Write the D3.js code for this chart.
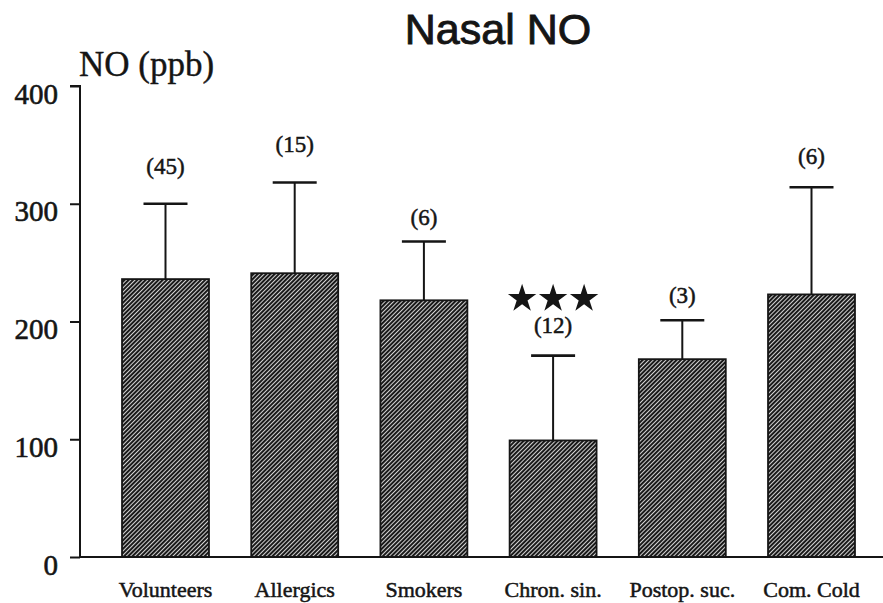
<!DOCTYPE html>
<html>
<head>
<meta charset="utf-8">
<script src="https://cdn.jsdelivr.net/npm/d3@7"></script>
<style>
  html, body { margin: 0; padding: 0; background: #ffffff; }
  svg { display: block; }
</style>
</head>
<body>
<script>
// Nasal NO by subject group: mean with upward SD bar, group size in brackets
const categories = ["Volunteers", "Allergics", "Smokers", "Chron. sin.", "Postop. suc.", "Com. Cold"];
const meanNO = [236, 241, 218, 99, 168, 223];
const sdNO = [64, 77, 50, 72, 33, 91];
const nSubjects = [45, 15, 6, 12, 3, 6];
const starCount = [0, 0, 0, 3, 0, 0];
const yTicks = [0, 100, 200, 300, 400];

const W = 883, H = 603;
const ink = "#151515";
const serif = "Liberation Serif, Times New Roman, serif";

const svg = d3.select("body").append("svg")
  .attr("width", W).attr("height", H);

// diagonal hatch used to fill the bars
const defs = svg.append("defs");
const pat = defs.append("pattern")
  .attr("id", "hatch")
  .attr("patternUnits", "userSpaceOnUse")
  .attr("width", 6).attr("height", 3.0)
  .attr("patternTransform", "rotate(-45)");
pat.append("rect").attr("width", 6).attr("height", 3.0).attr("fill", "#d2d2d2");
pat.append("rect").attr("width", 6).attr("height", 2.0).attr("fill", "#1a1a1a");

const x = d3.scaleBand()
  .domain(categories)
  .range([79, 898])
  .paddingInner(0.327)
  .paddingOuter(0.333);

const y = d3.scaleLinear().domain([0, 400]).range([557, 86]);

// per-bar vertical gap between the SD cap and its group-size label (px)
const labelLift = [30, 31, 16, 23, 17, 23];

const rows = categories.map((c, i) => ({
  c, i, mean: meanNO[i], sd: sdNO[i], n: nSubjects[i], stars: starCount[i]
}));

// heavier printed look for all text
function inked(sel, w) {
  return sel.attr("fill", ink).attr("stroke", ink).attr("stroke-width", w).attr("paint-order", "stroke");
}

// title
inked(svg.append("text")
  .attr("x", 498).attr("y", 44)
  .attr("text-anchor", "middle")
  .attr("font-family", "Liberation Sans, Arial, sans-serif")
  .attr("font-size", 43)
  .text("Nasal NO"), 0.9);

// y axis title
inked(svg.append("text")
  .attr("x", 79).attr("y", 76)
  .attr("font-family", serif)
  .attr("font-size", 35)
  .text("NO (ppb)"), 0.4);

// bars
svg.append("g").selectAll("rect")
  .data(rows).join("rect")
  .attr("x", d => x(d.c))
  .attr("y", d => y(d.mean))
  .attr("width", x.bandwidth())
  .attr("height", d => y(0) - y(d.mean))
  .attr("fill", "url(#hatch)")
  .attr("stroke", ink)
  .attr("stroke-width", 1.8);

// SD whiskers
const err = svg.append("g").attr("stroke", ink).attr("stroke-width", 2);
err.selectAll("line.stem")
  .data(rows).join("line").attr("class", "stem")
  .attr("x1", d => x(d.c) + x.bandwidth() / 2)
  .attr("x2", d => x(d.c) + x.bandwidth() / 2)
  .attr("y1", d => y(d.mean))
  .attr("y2", d => y(d.mean + d.sd));
err.selectAll("line.cap")
  .data(rows).join("line").attr("class", "cap")
  .attr("x1", d => x(d.c) + x.bandwidth() / 2 - 22)
  .attr("x2", d => x(d.c) + x.bandwidth() / 2 + 22)
  .attr("y1", d => y(d.mean + d.sd))
  .attr("y2", d => y(d.mean + d.sd))
  .attr("stroke-width", 2.6);

// group sizes
inked(svg.append("g").selectAll("text")
  .data(rows).join("text")
  .attr("x", d => x(d.c) + x.bandwidth() / 2)
  .attr("y", d => y(d.mean + d.sd) - labelLift[d.i])
  .attr("text-anchor", "middle")
  .attr("font-family", serif)
  .attr("font-size", 23)
  .text(d => `(${d.n})`), 0.5);

// significance stars
const star = d3.symbol().type(d3.symbolStar).size(250);
rows.filter(d => d.stars > 0).forEach(d => {
  const cx = x(d.c) + x.bandwidth() / 2;
  const cy = y(d.mean + d.sd) - 57;
  d3.range(d.stars).forEach(k => {
    svg.append("path")
      .attr("d", star())
      .attr("transform", `translate(${cx + (k - (d.stars - 1) / 2) * 31},${cy})`)
      .attr("fill", ink);
  });
});

// y axis
const yAxis = svg.append("g")
  .attr("transform", "translate(80,0)")
  .call(d3.axisLeft(y).tickValues(yTicks).tickSize(10).tickPadding(12).tickFormat(d3.format("d")));
yAxis.select(".domain").attr("stroke", ink).attr("stroke-width", 2).attr("d", `M-10,${y(400)}H0V${y(0)}`);
yAxis.selectAll(".tick line").attr("stroke", ink).attr("stroke-width", 2);
inked(yAxis.selectAll(".tick text")
  .attr("font-family", serif)
  .attr("font-size", 29)
  .attr("dy", 17), 0.6);

// x axis baseline with category names
const xAxis = svg.append("g")
  .attr("transform", `translate(0,${y(0)})`)
  .call(d3.axisBottom(x).tickSize(0).tickPadding(0));
xAxis.select(".domain").attr("stroke", ink).attr("stroke-width", 2).attr("d", `M80,0H${W}`);
inked(xAxis.selectAll(".tick text")
  .attr("font-family", serif)
  .attr("font-size", 22)
  .attr("dy", 0)
  .attr("y", 40), 0.5);
</script>
</body>
</html>
